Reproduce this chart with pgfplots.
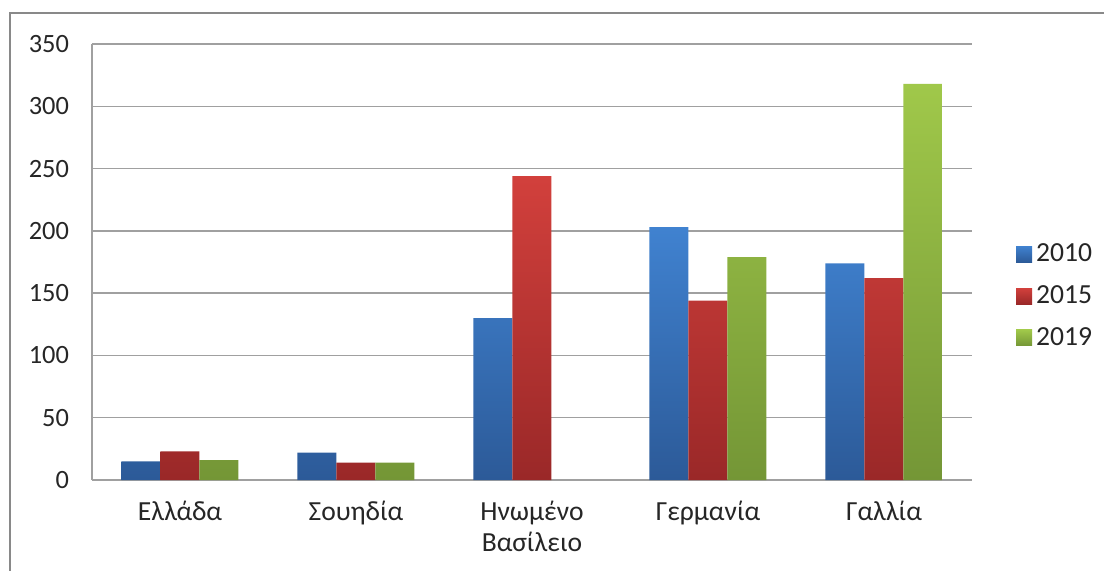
\documentclass[border=0pt]{standalone}
\usepackage{fontspec}
\setmainfont{Carlito}
\usepackage{pgfplots}
\pgfplotsset{compat=1.18}

\definecolor{blueTop}{RGB}{64,130,208}
\definecolor{blueBot}{RGB}{44,90,152}
\definecolor{redTop}{RGB}{210,64,60}
\definecolor{redBot}{RGB}{154,40,40}
\definecolor{greenTop}{RGB}{160,200,74}
\definecolor{greenBot}{RGB}{116,150,54}
\definecolor{gridgray}{RGB}{160,160,160}
\definecolor{labelgray}{RGB}{38,38,38}

\begin{document}
\begin{tikzpicture}
\useasboundingbox (0,0) rectangle (552pt,285pt);
% chart frame, cut by the page on the right and bottom
\draw[color={rgb,255:red,137;green,137;blue,137}, line width=1pt] (5pt,-10pt) rectangle (600pt,278.5pt);
\begin{axis}[
    at={(46pt,45pt)}, anchor=south west,
    scale only axis,
    width=440pt, height=218pt,
    xmin=-0.5, xmax=4.5,
    ymin=0, ymax=350,
    ytick={0,50,...,350},
    xtick={0,1,2,3,4},
    xticklabels={Ελλάδα, Σουηδία, {Ηνωμένο\\Βασίλειο}, Γερμανία, Γαλλία},
    axis lines*=left,
    axis line style={gridgray, line width=0.75pt},
    ymajorgrids=true,
    grid style={gridgray, line width=0.75pt},
    major tick length=0pt,
    tick label style={text=labelgray},
    /pgf/number format/assume math mode=true,
    yticklabel style={font=\fontsize{13.2}{15.5}\selectfont, xshift=-8pt},
    xticklabel style={font=\fontsize{13.8}{15.5}\selectfont, align=center, yshift=-7pt},
    ybar, bar width=19.5pt,
    legend style={at={(1.043,0.422)}, anchor=west, draw=none, fill=none,
        font=\fontsize{13.8}{15}\selectfont, text=labelgray, row sep=6.5pt},
    legend cell align=left,
    legend image code/.code={\path[#1, draw=none] (0pt,-4pt) rectangle (8pt,4pt);},
]
\addplot[draw=none, top color=blueTop, bottom color=blueBot, bar shift=-19.5pt] coordinates {
    (0,15) (1,22) (2,130) (3,203) (4,174)
};
\addlegendentry{2010}
\addplot[draw=none, top color=redTop, bottom color=redBot, bar shift=0pt] coordinates {
    (0,23) (1,14) (2,244) (3,144) (4,162)
};
\addlegendentry{2015}
% no 2019 bar for the United Kingdom (value 0)
\addplot[draw=none, top color=greenTop, bottom color=greenBot, bar shift=19.5pt] coordinates {
    (0,16) (1,14) (3,179) (4,318)
};
\addlegendentry{2019}
\end{axis}
\end{tikzpicture}
\end{document}
